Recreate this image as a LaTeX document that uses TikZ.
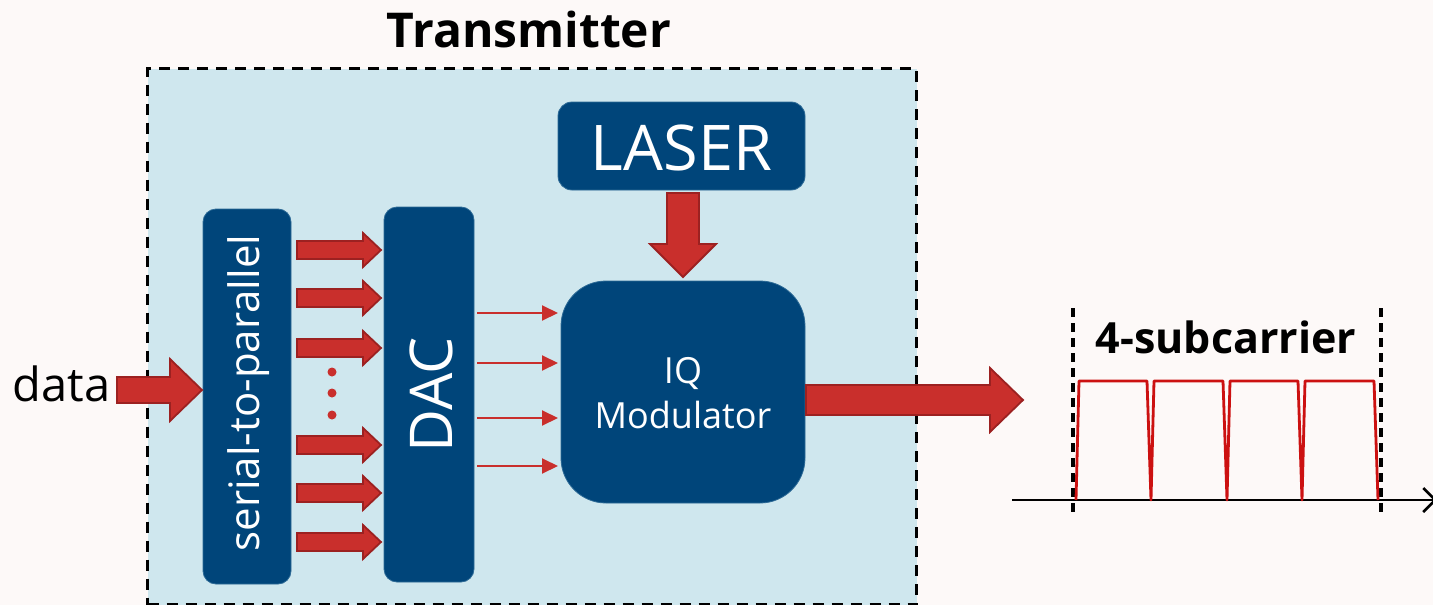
\documentclass[tikz,border=0pt]{standalone}
\usepackage{fontspec}
\setmainfont{Open Sans}
\usetikzlibrary{calc,arrows.meta}

\definecolor{pagebg}{HTML}{FDF9F8}
\definecolor{txbg}{HTML}{CFE7EE}
\definecolor{boxblue}{HTML}{00457A}
\definecolor{boxedge}{HTML}{2D6A96}
\definecolor{arrowred}{HTML}{C92F2C}
\definecolor{arrowedge}{HTML}{9C2121}
\definecolor{specred}{HTML}{CC1111}

\tikzset{
  blk/.style={fill=boxblue, draw=boxedge, line width=0.8pt, text=white, inner sep=0pt, align=center},
  % filled block arrow: {shaft half width}{head half width}{head length}
  blockarrow/.style n args={3}{draw=arrowedge, fill=arrowred, line width=1.8pt, line join=miter,
    to path={
      ($(\tikztostart)!#1!90:(\tikztotarget)$)
      -- ($($(\tikztotarget)!#3!(\tikztostart)$)!#1!90:(\tikztotarget)$)
      -- ($($(\tikztotarget)!#3!(\tikztostart)$)!#2!90:(\tikztotarget)$)
      -- (\tikztotarget)
      -- ($($(\tikztotarget)!#3!(\tikztostart)$)!#2!-90:(\tikztotarget)$)
      -- ($($(\tikztotarget)!#3!(\tikztostart)$)!#1!-90:(\tikztotarget)$)
      -- ($(\tikztostart)!#1!-90:(\tikztotarget)$)
      -- cycle}},
  smallarrow/.style={blockarrow={9pt}{17pt}{18pt}},
  bigarrow/.style={blockarrow={15pt}{32pt}{33pt}},
  thinarrow/.style={draw=arrowred, line width=2pt, -{Triangle[length=16pt,width=15pt]}},
  bandedge/.style={draw=black, line width=3.5pt, dash pattern=on 9pt off 6pt},
}

\begin{document}
\begin{tikzpicture}[x=1pt, y=-1pt]
\useasboundingbox[fill=pagebg] (0,0) rectangle (1433,605);

% transmitter enclosure
\node[draw=black, fill=txbg, line width=3pt, dash pattern=on 11pt off 8pt,
      minimum width=769pt, minimum height=536pt, anchor=north west, inner sep=0pt] (tx) at (146,67) {};
\node[font=\fontsize{48}{56}\selectfont\bfseries, anchor=base] (title) at (529,47) {Transmitter};

% blocks
\node[blk, rounded corners=14pt, minimum width=247pt, minimum height=88pt] (laser) at (681.5,146) {};
\node[text=white, font=\fontsize{63}{70}\selectfont, anchor=base] (lasertxt) at (681.5,170) {LASER};

\node[blk, rounded corners=45pt, minimum width=244pt, minimum height=222pt] (iq) at (683,392) {};
\node[text=white, font=\fontsize{36}{45}\selectfont, anchor=base] (iqa) at (683,383) {IQ};
\node[text=white, font=\fontsize{36}{45}\selectfont, anchor=base] (iqb) at (683,428) {Modulator};

\node[blk, rounded corners=13pt, minimum width=88pt, minimum height=375pt] (s2p) at (247,396.5) {};
\node[text=white, font=\fontsize{42}{50}\selectfont, rotate=90] (s2ptxt) at (249,393) {serial-to-parallel};

\node[blk, rounded corners=13pt, minimum width=90pt, minimum height=375pt] (dac) at (429,394.5) {};
\node[text=white, font=\fontsize{59}{66}\selectfont, rotate=90] (dactxt) at (431,395) {DAC};

% input
\node[font=\fontsize{47}{54}\selectfont, anchor=base] (data) at (61.5,401) {data};
\coordinate (din) at (117,390);
\coordinate (dout) at (202,390);
\draw[blockarrow={13pt}{31pt}{32pt}] (din) to (dout);

% parallel lanes into the DAC
\foreach \y [count=\i] in {250,298,348,445,493,542} {
  \coordinate (pa\i) at (297,\y);
  \coordinate (pb\i) at (381,\y);
  \draw[smallarrow] (pa\i) to (pb\i);
}
\foreach \y in {372,393,415}
  \fill[arrowred] (332,\y) circle (4.5);

% analog drive signals
\foreach \y [count=\i] in {313,363,418,466} {
  \coordinate (qa\i) at (477,\y);
  \coordinate (qb\i) at (558,\y);
  \draw[thinarrow] (qa\i) -- (qb\i);
}

% laser into modulator
\coordinate (la) at (683,193);
\coordinate (lb) at (683,277);
\draw[blockarrow={16pt}{33pt}{33pt}] (la) to (lb);

% optical output
\coordinate (oa) at (806,400);
\coordinate (ob) at (1023,400);
\draw[bigarrow] (oa) to (ob);

% output spectrum
\coordinate (ax0) at (1012,500);
\coordinate (ax1) at (1437,500);
\draw[line width=2.5pt, -{Straight Barb[length=12pt,width=24pt]}] (ax0) -- (ax1);
\coordinate (b0a) at (1073,308); \coordinate (b0b) at (1073,514);
\coordinate (b1a) at (1381,308); \coordinate (b1b) at (1381,514);
\draw[bandedge] (b0a) -- (b0b);
\draw[bandedge] (b1a) -- (b1b);
\node[font=\fontsize{43}{50}\selectfont\bfseries, anchor=base] (sc) at (1226,353) {4-subcarrier};
\draw[specred, line width=2.8pt, line join=round]
  (1076,500) -- (1079,381) -- (1147,381) -- (1151,500)
  -- (1154,381) -- (1223,381) -- (1227,500)
  -- (1230,381) -- (1298,381) -- (1302,500)
  -- (1305,381) -- (1374,381) -- (1378,500);
\end{tikzpicture}
\end{document}
